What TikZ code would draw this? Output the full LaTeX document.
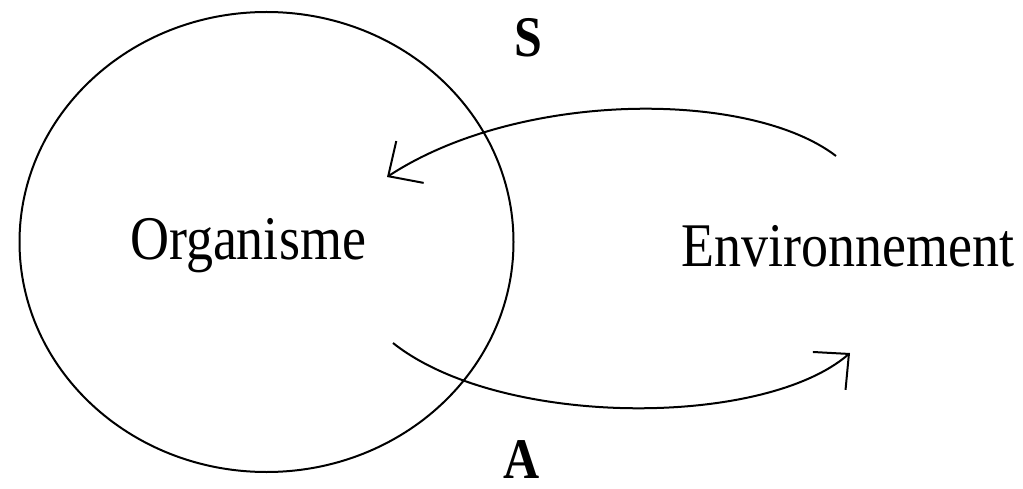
\documentclass[tikz,border=0pt]{standalone}
\usepackage{fontspec}
\setmainfont{Liberation Serif}
\usetikzlibrary{arrows.meta,shapes.geometric}
\newcommand{\txt}[1]{\scalebox{1}[1.15]{#1}}
\begin{document}
\begin{tikzpicture}[x=1pt,y=-1pt,
  lbl/.style={inner sep=0pt,font=\fontsize{54}{60}\selectfont},
  bl/.style={inner sep=0pt,font=\fontsize{50}{56}\selectfont\bfseries},
  arc/.style={line width=2pt,-{Straight Barb[length=26pt,width=50pt,line width=2pt]}}]
\useasboundingbox (0,0) rectangle (1023,489);
\node[draw,line width=2pt,ellipse,minimum width=494pt,minimum height=460pt,inner sep=0pt] (org) at (266.5,242) {};
\node[lbl] (orgt) at (248,246) {\txt{Organisme}};
\node[lbl] (env) at (848,246) {\txt{Environnement}};
\node[bl] (S) at (528,38) {\txt{S}};
\node[bl] (A) at (522,460) {\txt{A}};
\coordinate (sstart) at (836,156);
\coordinate (send) at (387,177);
\coordinate (astart) at (393,343);
\coordinate (aend) at (850,353);
\draw[arc] (sstart) .. controls (750,90) and (520,90) .. (send);
\draw[arc] (astart) .. controls (500,428) and (763,428) .. (aend);
\end{tikzpicture}
\end{document}
